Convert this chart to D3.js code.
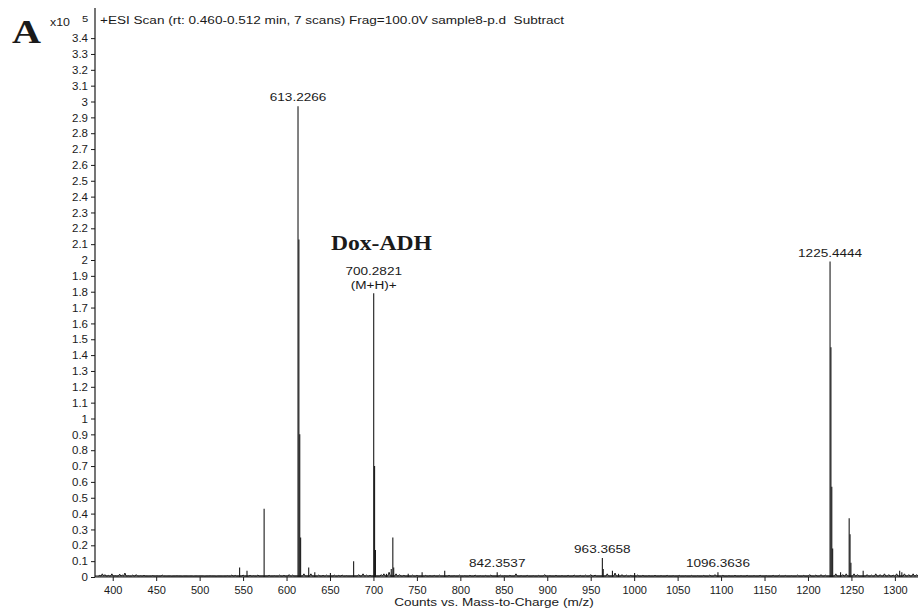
<!DOCTYPE html>
<html>
<head>
<meta charset="utf-8">
<script src="https://cdn.jsdelivr.net/npm/d3@7"></script>
<style>
  body { margin: 0; background: #fff; }
  svg { font-family: "Liberation Sans", Arial, sans-serif; }
</style>
</head>
<body>
<svg id="chart" width="918" height="610"></svg>
<script>
// main peaks, m/z and counts (x10^5)
const peakMz  = [613.2, 614.2, 615.2, 616.2, 574.2, 546.0, 554.5, 625.5, 632.5, 650.5, 677.2,
                 700.3, 701.3, 702.3, 715.0, 720.5, 722.3, 723.3, 740.0, 756.0, 782.0,
                 842.4, 963.4, 964.4, 975.0, 982.0, 1000.5, 1096.4,
                 1225.4, 1226.4, 1227.4, 1228.4, 1237.5, 1247.4, 1248.4, 1249.4, 1263.5, 1305.5, 1308.0];
const peakInt = [2.97, 2.13, 0.90, 0.25, 0.43, 0.06, 0.04, 0.06, 0.03, 0.025, 0.10,
                 1.79, 0.70, 0.17, 0.02, 0.05, 0.25, 0.06, 0.02, 0.03, 0.04,
                 0.03, 0.12, 0.05, 0.04, 0.02, 0.025, 0.03,
                 1.99, 1.45, 0.57, 0.18, 0.03, 0.37, 0.27, 0.09, 0.04, 0.04, 0.03];

// baseline noise
const noiseMz  = [385, 388, 391, 395, 399, 403, 408, 411, 414, 418, 423, 427, 432, 436, 441, 446, 451, 457,
                  462, 468, 474, 480, 487, 493, 499, 506, 512, 519, 526, 532, 537, 541, 550, 558, 562, 567,
                  580, 586, 592, 597, 603, 607, 620, 628, 637, 642, 646, 655, 660, 664, 669, 683, 688, 692,
                  696, 709, 712, 718, 726, 730, 735, 745, 750, 760, 765, 770, 776, 787, 793, 799, 805, 811,
                  817, 823, 829, 835, 846, 851, 857, 864, 870, 877, 884, 890, 897, 903, 910, 917, 924, 931,
                  938, 944, 950, 955, 969, 978, 986, 991, 996, 1004, 1010, 1017, 1024, 1031, 1038, 1045,
                  1052, 1059, 1066, 1073, 1080, 1087, 1093, 1102, 1109, 1116, 1123, 1130, 1138, 1145, 1152,
                  1160, 1167, 1174, 1181, 1188, 1195, 1202, 1209, 1215, 1220, 1232, 1240, 1244, 1253, 1257,
                  1268, 1273, 1278, 1283, 1288, 1293, 1298, 1302, 1311, 1316, 1321, 1325];
const noiseInt = [.01, .02, .015, .01, .02, .008, .018, .012, .025, .008, .012, .015, .008, .01, .006, .009, .007, .012,
                  .006, .005, .007, .005, .006, .005, .006, .005, .007, .005, .006, .008, .012, .01, .012, .01, .008, .012,
                  .01, .008, .012, .01, .015, .012, .02, .02, .012, .01, .012, .012, .01, .012, .008, .015, .02, .012,
                  .01, .015, .02, .03, .02, .015, .01, .012, .01, .01, .008, .01, .012, .01, .008, .012, .008, .01,
                  .012, .008, .01, .012, .012, .008, .01, .02, .008, .01, .008, .01, .015, .008, .01, .008, .01, .012,
                  .01, .012, .015, .012, .02, .025, .015, .012, .01, .012, .01, .008, .01, .008, .01, .008,
                  .01, .008, .01, .008, .01, .012, .015, .01, .008, .01, .008, .01, .008, .01, .008,
                  .01, .012, .01, .008, .012, .01, .015, .012, .015, .012, .02, .015, .02, .02, .015,
                  .015, .012, .02, .015, .02, .015, .012, .02, .02, .015, .02, .015];

const xTicks = [400, 450, 500, 550, 600, 650, 700, 750, 800, 850, 900, 950, 1000, 1050, 1100, 1150, 1200, 1250, 1300];
const yTicks = [0, 0.1, 0.2, 0.3, 0.4, 0.5, 0.6, 0.7, 0.8, 0.9, 1, 1.1, 1.2, 1.3, 1.4, 1.5, 1.6, 1.7,
                1.8, 1.9, 2, 2.1, 2.2, 2.3, 2.4, 2.5, 2.6, 2.7, 2.8, 2.9, 3, 3.1, 3.2, 3.3, 3.4];

const labelMz   = [613.2266, 700.2821, 842.3537, 963.3658, 1096.3636, 1225.4444];
const labelText = ["613.2266", "700.2821", "842.3537", "963.3658", "1096.3636", "1225.4444"];
const labelInt  = [2.97, 1.79, 0.03, 0.12, 0.03, 1.99];

const svg = d3.select("#chart");
const x = d3.scaleLinear().domain([379.6, 1326.6]).range([95, 918]);
const y = d3.scaleLinear().domain([0, 3.59]).range([577, 8]);
const ink = "#1a1a1a";
const stretch = 1.18; // the source picture is widened a bit

function label(px, py, txt, size, anchor, family, weight) {
  return svg.append("text")
    .attr("transform", `translate(${px},${py}) scale(${stretch},1)`)
    .attr("text-anchor", anchor || "start")
    .attr("font-size", size)
    .attr("font-family", family || "'Liberation Sans', Arial, sans-serif")
    .attr("font-weight", weight || "normal")
    .attr("fill", ink)
    .attr("xml:space", "preserve")
    .style("white-space", "pre")
    .text(txt);
}

// axes
const xAxis = svg.append("g").attr("transform", `translate(0,${y(0)})`)
  .call(d3.axisBottom(x).tickValues(xTicks).tickSize(4).tickPadding(5).tickFormat(d3.format("d")));
const yAxis = svg.append("g").attr("transform", `translate(${x.range()[0]},0)`)
  .call(d3.axisLeft(y).tickValues(yTicks).tickSize(4).tickPadding(3).tickFormat(d => String(d)));

[xAxis, yAxis].forEach(a => {
  a.select(".domain").attr("stroke", ink).attr("stroke-width", 1.2);
  a.selectAll(".tick line").attr("stroke", ink);
  a.selectAll(".tick text").attr("fill", ink).attr("font-size", 11.5)
    .attr("font-family", "'Liberation Sans', Arial, sans-serif");
});
xAxis.selectAll(".tick text").attr("font-size", 11);
yAxis.select(".domain").attr("d", `M0,${y(0)}V${y.range()[1]}`);
xAxis.select(".domain").attr("d", `M${x.range()[0]},0H${x.range()[1]}`);

// baseline noise as a thin jagged trace
const noisePts = noiseMz.map((m, i) => [x(m), y(noiseInt[i])]);
svg.append("path")
  .attr("d", d3.line()(noisePts.flatMap(p => [[p[0] - 1.2, y(0) - 1], p, [p[0] + 1.2, y(0) - 1]])))
  .attr("fill", "none").attr("stroke", ink).attr("stroke-width", 1);
svg.append("line")
  .attr("x1", x.range()[0]).attr("x2", x.range()[1])
  .attr("y1", y(0) - 1).attr("y2", y(0) - 1)
  .attr("stroke", ink).attr("stroke-width", 1.2);

// peaks
svg.append("g").selectAll("line").data(peakMz).join("line")
  .attr("x1", d => x(d)).attr("x2", d => x(d))
  .attr("y1", y(0)).attr("y2", (d, i) => y(peakInt[i]))
  .attr("stroke", ink).attr("stroke-width", 1.1);

// peak labels
labelMz.forEach((m, i) => {
  label(x(m), y(labelInt[i]) - (i === 1 ? 18 : 5), labelText[i], 11.5, "middle");
});
label(x(700.2821), y(1.79) - 4, "(M+H)+", 11.5, "middle");

label(331, 250, "Dox-ADH", 20, "start", "'Liberation Serif', 'Times New Roman', serif", "bold");

// header
label(12, 43, "A", 34, "start", "'Liberation Serif', 'Times New Roman', serif", "bold");
label(50, 26, "x10", 10.5, "start");
label(82, 22, "5", 9.5, "start");
label(100, 24, "+ESI Scan (rt: 0.460-0.512 min, 7 scans) Frag=100.0V sample8-p.d  Subtract", 11.5, "start");

label(494, 606, "Counts vs. Mass-to-Charge (m/z)", 11.5, "middle");
</script>
</body>
</html>
